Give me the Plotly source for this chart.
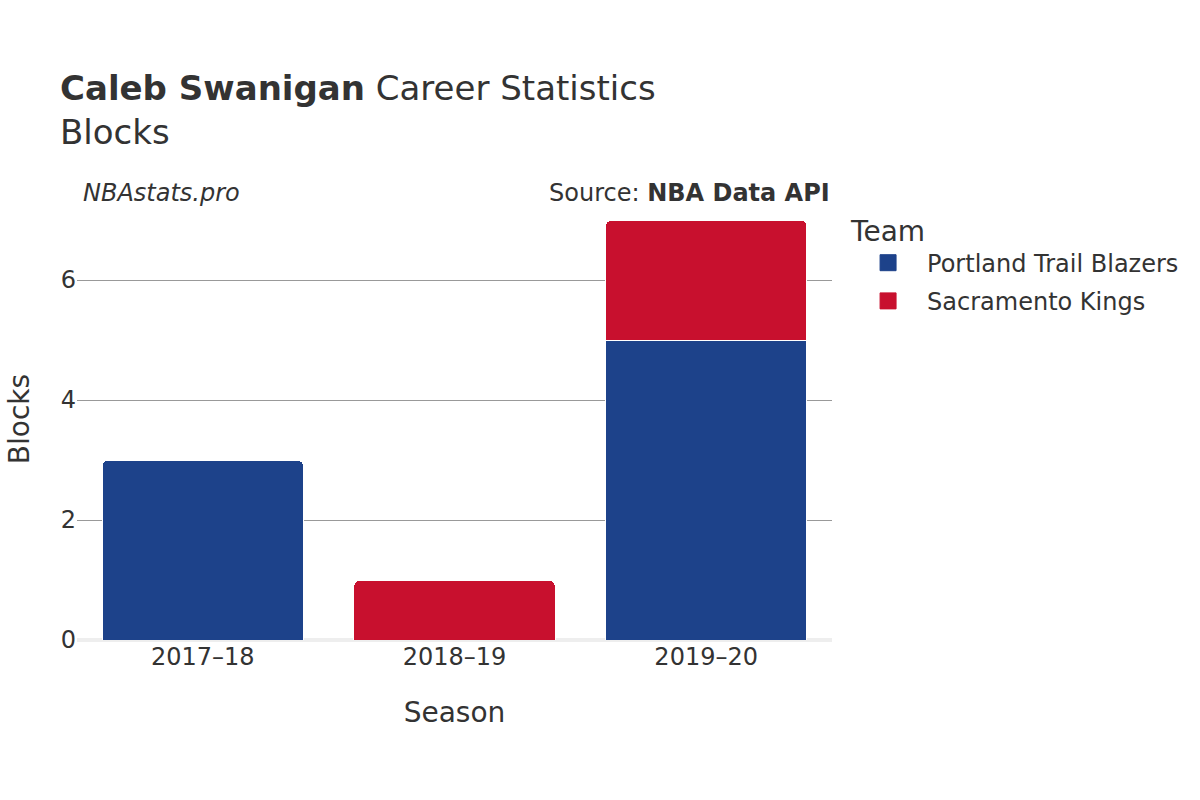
import plotly.graph_objects as go

seasons = ["2017–18", "2018–19", "2019–20"]
teams = ["Portland Trail Blazers", "Sacramento Kings"]
blazers_blocks = [3, 0, 5]
kings_blocks = [0, 1, 2]
colors = ["#1d428a", "#c8102e"]

fig = go.Figure()
for name, vals, col in zip(teams, [blazers_blocks, kings_blocks], colors):
    fig.add_trace(go.Bar(
        x=seasons, y=vals, name=name, showlegend=False, legendgroup=name,
        marker=dict(color=col, line=dict(color="white", width=1)),
    ))
# legend proxies with larger square swatches
for name, col in zip(teams, colors):
    fig.add_trace(go.Scatter(
        x=[None], y=[None], mode="markers", name=name, legendgroup=name,
        marker=dict(symbol="square", size=22, color=col, line=dict(color=col, width=1)),
    ))

fig.update_layout(
    barmode="stack",
    barcornerradius=6,
    bargap=0.2,
    width=1200, height=800,
    paper_bgcolor="white", plot_bgcolor="white",
    font=dict(family="DejaVu Sans", color="#333333", size=22),
    margin=dict(l=77, r=368, t=198, b=160, autoexpand=False),
    title=dict(
        text="<b>Caleb Swanigan</b> Career Statistics<br>Blocks",
        x=0.05, xanchor="left", y=0.875, yanchor="top",
        font=dict(size=34, color="#333333"),
    ),
    legend=dict(
        title=dict(text="Team", font=dict(size=28)),
        font=dict(size=24),
        traceorder="grouped",
        x=1.0226, xanchor="left", y=0.986, yanchor="top",
        itemsizing="trace",
        itemwidth=68,
        tracegroupgap=4,
    ),
    xaxis=dict(
        title=dict(text="Season", font=dict(size=28), standoff=32),
        tickfont=dict(size=24),
        showgrid=False,
        automargin=False,
    ),
    yaxis=dict(
        title=dict(text="Blocks", font=dict(size=28), standoff=22),
        tickfont=dict(size=24),
        showgrid=True, gridcolor="#999999", gridwidth=1,
        zeroline=True, zerolinecolor="#eeeeee", zerolinewidth=4,
        dtick=2,
        automargin=False,
    ),
    annotations=[
        dict(text="<i>NBAstats.pro</i>", x=0.005, xref="paper", y=1.0, yref="paper",
             xanchor="left", yanchor="bottom", yshift=-11, showarrow=False,
             font=dict(size=24, color="#333333")),
        dict(text="Source: <b>NBA Data API</b>", x=0.9995, xref="paper", y=1.0, yref="paper",
             xanchor="right", yanchor="bottom", yshift=-11, showarrow=False,
             font=dict(size=24, color="#333333")),
    ],
)

fig.write_html("out.html", config={"displayModeBar": False},
               post_script="document.body.style.margin='0';")
